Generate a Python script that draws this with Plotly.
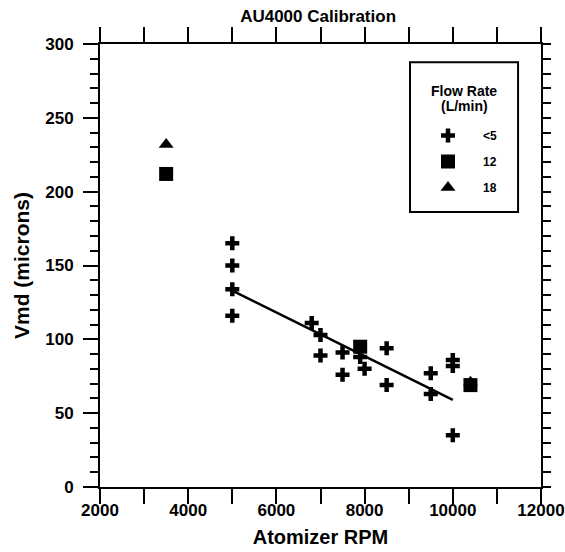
import plotly.graph_objects as go

# ---- data ----
lt5_rpm = [5000, 5000, 5000, 5000, 6800, 7000, 7000, 7500, 7500, 7900, 8000, 8500, 8500, 9500, 9500, 10000, 10000, 10000]
lt5_vmd = [165, 150, 134, 116, 111, 103, 89, 91, 76, 88, 80, 94, 69, 77, 63, 86, 82, 35]
f12_rpm = [3500, 7900, 10400]
f12_vmd = [212, 95, 69]
f18_rpm = [3500, 10400]
f18_vmd = [232, 71]
fit_rpm = [5000, 10000]
fit_vmd = [133, 59]

x_ticks = [2000, 4000, 6000, 8000, 10000, 12000]
y_ticks = [0, 50, 100, 150, 200, 250, 300]

FONT = "Liberation Sans"
BLACK = "black"

fig = go.Figure()
fig.add_trace(go.Scatter(x=fit_rpm, y=fit_vmd, mode="lines",
                         line=dict(color=BLACK, width=2.5), showlegend=False))
fig.add_trace(go.Scatter(x=f18_rpm, y=f18_vmd, mode="markers", name="18", legendrank=3, legendgroup="c",
                         marker=dict(symbol="triangle-up", size=13, color=BLACK)))
fig.add_trace(go.Scatter(x=lt5_rpm, y=lt5_vmd, mode="markers", name="<5", legendrank=1, legendgroup="a",
                         marker=dict(symbol="cross-thin", size=10, color=BLACK,
                                     line=dict(color=BLACK, width=4.5))))
fig.add_trace(go.Scatter(x=f12_rpm, y=f12_vmd, mode="markers", name="12", legendrank=2, legendgroup="b",
                         marker=dict(symbol="square", size=14, color=BLACK)))
# invisible trace to activate right-hand axis
fig.add_trace(go.Scatter(x=[None], y=[None], yaxis="y2", showlegend=False, hoverinfo="skip"))

tickfont = dict(family=FONT, size=17, color=BLACK, weight="bold")

fig.update_layout(
    width=565, height=552,
    margin=dict(l=100, r=24, t=44, b=65),
    paper_bgcolor="white", plot_bgcolor="white",
    title=dict(text="AU4000 Calibration", x=0.563, xanchor="center",
               yref="container", y=1 - 16 / 552, yanchor="middle",
               font=dict(family=FONT, size=17, color=BLACK, weight="bold")),
    xaxis=dict(range=[2000, 12000], tickvals=x_ticks, ticktext=[str(v) for v in x_ticks],
               ticks="outside", ticklen=15, tickwidth=2, tickcolor=BLACK,
               showline=True, linewidth=2, linecolor=BLACK, mirror="allticks",
               minor=dict(dtick=1000, ticks="outside", ticklen=8, tickwidth=2, tickcolor=BLACK, showgrid=False),
               showgrid=False, zeroline=False, tickfont=tickfont, automargin=False,
               ticklabelstandoff=-8,
               title=dict(text="Atomizer RPM", standoff=11,
                          font=dict(family=FONT, size=20, color=BLACK, weight="bold"))),
    yaxis=dict(range=[0, 300], tickvals=y_ticks,
               ticks="outside", ticklen=15, tickwidth=2, tickcolor=BLACK,
               showline=True, linewidth=2, linecolor=BLACK, mirror=True,
               minor=dict(dtick=10, ticks="outside", ticklen=8, tickwidth=2, tickcolor=BLACK, showgrid=False),
               showgrid=False, zeroline=False, tickfont=tickfont, ticklabelstandoff=6, automargin=False,
               title=dict(text="Vmd (microns)", standoff=10,
                          font=dict(family=FONT, size=21, color=BLACK, weight="bold"))),
    yaxis2=dict(range=[0, 300], overlaying="y", side="right", dtick=10, automargin=False,
                ticks="outside", ticklen=9, tickwidth=2, tickcolor=BLACK,
                showticklabels=False, showline=False, showgrid=False, zeroline=False),
    legend=dict(x=(413 - 100) / 441, xanchor="left", y=(487 - 121) / 443, yanchor="top",
                bgcolor="rgba(0,0,0,0)", borderwidth=0,
                font=dict(family=FONT, size=12, color=BLACK, weight="bold"),
                traceorder="grouped", tracegroupgap=7, itemwidth=60),
    annotations=[
        dict(text="Flow Rate", xref="paper", yref="paper", x=(464 - 100) / 441, y=(487 - 91) / 443,
             xanchor="center", yanchor="middle", showarrow=False,
             font=dict(family=FONT, size=14, color=BLACK, weight="bold")),
        dict(text="(L/min)", xref="paper", yref="paper", x=(464 - 100) / 441, y=(487 - 106) / 443,
             xanchor="center", yanchor="middle", showarrow=False,
             font=dict(family=FONT, size=14, color=BLACK, weight="bold")),
    ],
    shapes=[dict(type="rect", xref="paper", yref="paper", x0=0.703, x1=0.948, y0=0.621, y1=0.959,
                 line=dict(color=BLACK, width=2), fillcolor="white", layer="below")],
    showlegend=True,
)

fig.write_html("out.html", config={"displayModeBar": False},
               post_script="document.body.style.margin='0';document.body.style.overflow='hidden';")
